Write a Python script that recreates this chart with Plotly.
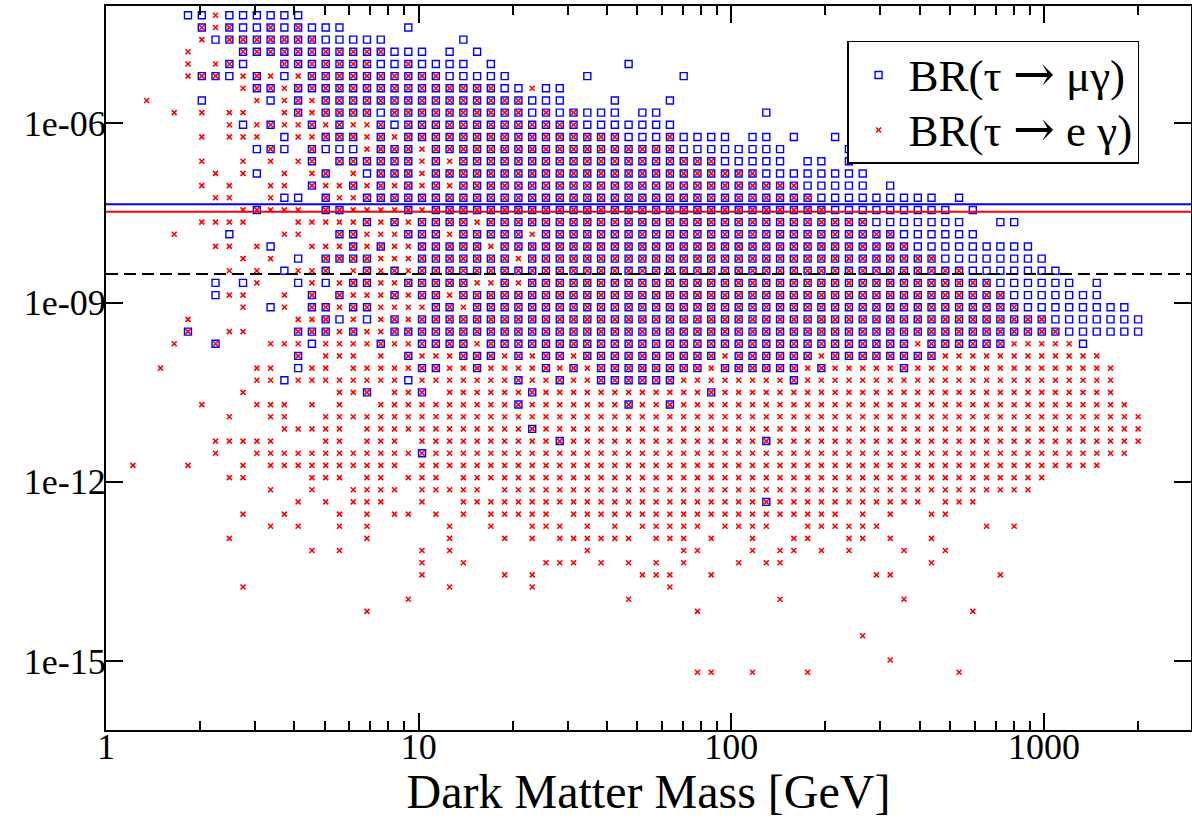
import plotly.graph_objects as go

# Dark-matter mass grid (GeV), one value per column of the scan
MASS_GEV = [1.219, 1.349, 1.494, 1.653, 1.829, 2.025, 2.240, 2.480, 2.744, 3.037,
            3.361, 3.720, 4.117, 4.557, 5.043, 5.581, 6.176, 6.836, 7.565, 8.373,
            9.267, 10.25, 11.35, 12.56, 13.90, 15.38, 17.02, 18.84, 20.85, 23.08,
            25.54, 28.27, 31.29, 34.63, 38.32, 42.41, 46.94, 51.95, 57.49, 63.63,
            70.42, 77.93, 86.25, 95.46, 105.6, 116.9, 129.4, 143.2, 158.5, 175.4,
            194.1, 214.8, 237.8, 263.2, 291.2, 322.3, 356.7, 394.8, 436.9, 483.6,
            535.2, 592.2, 655.5, 725.4, 803.0, 888.6, 983.4, 1088, 1204, 1333,
            1475, 1633, 1807, 2000]

# Branching-ratio levels, one value per row of the scan
BR_ROWS = [6.406e-5, 4.009e-5, 2.509e-5, 1.570e-5, 9.824e-6, 6.148e-6, 3.847e-6, 2.407e-6, 1.506e-6, 9.428e-7,
           5.900e-7, 3.692e-7, 2.310e-7, 1.445e-7, 9.046e-8, 5.661e-8, 3.542e-8, 2.217e-8, 1.387e-8, 8.679e-9,
           5.433e-9, 3.400e-9, 2.127e-9, 1.331e-9, 8.329e-10, 5.214e-10, 3.262e-10, 2.041e-10, 1.277e-10, 7.991e-11,
           5.001e-11, 3.130e-11, 1.959e-11, 1.226e-11, 7.670e-12, 4.800e-12, 3.003e-12, 1.880e-12, 1.176e-12, 7.360e-13,
           4.606e-13, 2.882e-13, 1.804e-13, 1.129e-13, 7.063e-14, 4.420e-14, 2.766e-14, 1.731e-14, 1.083e-14, 6.778e-15,
           4.242e-15, 2.654e-15, 1.661e-15, 1.039e-15, 6.503e-16]

# Occupied cells per BR row: "<col>[-<col>]<kind>", kind s = mu-gamma only, x = e-gamma only, b = both
GRID_ROWS = [
    "4s 5s 6x 7-12s",
    "5b 6x 7b 8s 9s 10b 11s 12b 13-15s 20s",
    "5x 6s 7-13b 14-18s 24s",
    "4x 8-18b 19-21s 23s 25s",
    "4x 6x 7b 8s 11-17b 18s 19s 20b 21-24s 26s 36s",
    "4x 5b 6b 7s 8x 9b 10x 11s 12x 13-22b 23-27s 33s 40s",
    "8x 9b 10b 11x 12-26b 27s 28s 29x 30s 31s",
    "1x 5s 9x 10s 11x 12b 13x 14-28b 29-31s 35s 39s",
    "3x 5x 7x 8x 11x 12b 13x 14-17b 18s 19-28b 29s 30b 31s 32b 33-35s 37s 38s 46s",
    "7x 8s 9x 10b 11x 12x 13b 14x 15b 16x 17x 18b 19s 20-32b 33-39s",
    "5x 7-9x 11s 12x 13x 14-16b 17x 18b 19x 20-35b 36-38s 39b 40-43s 45s 46s 48s 51s",
    "9s 10b 11s 13b 14-16s 17x 18-20b 21x 22-39b 40-47s 52s",
    "5x 8x 10x 12x 13b 15-20b 21x 22b 23x 24-42b 43-47s 49s 50s 52s",
    "6x 8x 9s 11x 13x 14b 16x 17s 18-20b 21x 22-45b 46-53s",
    "5x 7x 10x 11x 13b 14x 15x 16b 17x 18b 19x 20b 21x 22b 23x 24-48b 49-53s 55s",
    "6x 7x 10x 11s 12s 14b 15x 16x 17-49b 50-58s 60s",
    "8x 9b 10-12x 14b 15b 16-19x 20b 21x 22-50b 51-59s 61s",
    "5-8x 12-16x 17b 18x 19b 20x 21-24b 25x 26-53b 54-60s 63s 64s",
    "3x 7s 11x 12x 15b 16b 17-19x 20-22b 23x 24-28b 29x 30-55b 56-61s",
    "6x 7x 9x 10s 13-15x 16b 17x 18b 19x 20x 21-25b 26x 27-56b 57-65s",
    "8x 10x 12s 14-17b 18-20x 21-27b 28x 29-58b 59-66s",
    "7x 9x 11s 12x 13x 14b 16x 17b 18x 19b 20x 21-60b 61-67s",
    "6s 8s 9x 12s 13x 14s 15x 16b 17b 18x 19x 20-24b 25x 26x 27b 28x 29-62b 63-68s 70s",
    "6s 7x 8x 11x 13b 15b 16-18x 19b 20x 21b 22b 23x 24-63b 64-70s",
    "8x 10s 11x 13b 14b 15x 16b 17b 18-21x 22b 23b 24x 25-64b 65-72s",
    "4x 12x 13x 14b 15s 16x 17s 18x 19b 20x 21-66b 67-73s",
    "4b 7x 8x 12-14b 15x 16b 17x 18x 19-67b 68-73s",
    "3x 6b 10-12x 13s 14-17x 18b 19x 20x 21-24b 25x 26-56b 57x 58-63b 64-68x 69s",
    "12b 14-16x 18x 20b 21-23x 24-26b 27x 28b 29x 30b 31b 32x 33-42b 43x 44-49b 50x 51-58b 59-70x",
    "2x 9x 10x 12s 13x 14x 16-20x 21b 22b 23x 24x 25b 26-29x 30b 31x 32b 33x 34-41b 42x 43-48b 49x 50b 51-55x 56b 57-71x",
    "9x 10x 11s 12-19x 20s 21-27x 28b 29x 30x 31b 32x 33x 34-39b 40-47x 48b 49-71x",
    "8x 15x 16x 17b 19x 20x 21b 23-28x 29b 30-41x 42b 43-71x",
    "5x 9-11x 13x 15x 18-27x 28b 29-35x 36b 37x 38x 39b 40-72x",
    "7x 10x 11x 14-73x",
    "11-15x 17-28x 29b 30-73x",
    "6-10x 14x 15x 17-19x 21-30x 31b 32-45x 46b 47-73x",
    "6x 9-20x 21b 22-72x",
    "0x 4x 8x 10-19x 21-70x",
    "7x 8x 13-15x 17x 18x 20-22x 24-66x",
    "10x 13x 16-19x 21-25x 27-65x",
    "12x 14x 16-18x 21x 24-45x 46b 47-57x 59-61x",
    "8x 11x 15x 17x 19x 20x 22x 24x 26-30x 32-51x 53x 55x 58x 59x",
    "10x 12x 15x 17x 23x 26x 29-31x 33x 35x 37-41x 43-46x 49-54x 62x 64x",
    "7x 17x 23x 27x 29x 31-36x 38-40x 42x 45x 48x 49x 52x 53x 55x 58x",
    "13x 15x 21x 23x 33x 40x 41x 45x 47x 48x 50x 52x 56x 59x",
    "21x 24x 30-32x 34x 36x 38x 40x 44x 46x 47x 58x",
    "21x 27x 29x 37-39x 42x 54x 55x 63x",
    "8x 23x 29x 39x",
    "20x 36x 47x 56x",
    "17x 41x 61x",
    "",
    "53x",
    "",
    "55x",
    "41x 42x 45x 49x 60x",
]

# Experimental limits / sensitivity
LIMIT_MU_GAMMA = 4.4e-8
LIMIT_E_GAMMA = 3.3e-8
FUTURE_SENSITIVITY = 3e-9

X_TICKVALS = [1, 10, 100, 1000]
X_TICKTEXT = ["1", "10", "100", "1000"]
X_MINOR = [2, 3, 4, 5, 6, 7, 8, 9, 20, 30, 40, 50, 60, 70, 80, 90,
           200, 300, 400, 500, 600, 700, 800, 900, 2000]
Y_TICKVALS = [1e-15, 1e-12, 1e-9, 1e-6]
Y_TICKTEXT = ["1e-15", "1e-12", "1e-09", "1e-06"]

ARROW = "<span style=\"font-family:'DejaVu Serif';font-size:50px\">\u2192</span>"
LABEL_MU = "<span style=\"font-size:45px\">BR(\u03c4 " + ARROW + " \u03bc\u03b3)</span>"
LABEL_E = "<span style=\"font-size:45px\">BR(\u03c4 " + ARROW + " e \u03b3)</span>"
X_TITLE = "Dark Matter Mass [GeV]"

# expand the grid table into point lists
mu_x, mu_y, e_x, e_y = [], [], [], []
for r, row in enumerate(GRID_ROWS):
    for tok in row.split():
        kind = tok[-1]
        span = tok[:-1]
        if "-" in span:
            a, b = span.split("-")
            cols = range(int(a), int(b) + 1)
        else:
            cols = [int(span)]
        for c in cols:
            if kind in "sb":
                mu_x.append(MASS_GEV[c]); mu_y.append(BR_ROWS[r])
            if kind in "xb":
                e_x.append(MASS_GEV[c]); e_y.append(BR_ROWS[r])

FONT = "Liberation Serif"

fig = go.Figure()
fig.add_trace(go.Scatter(
    x=mu_x, y=mu_y, mode="markers", name=LABEL_MU,
    marker=dict(symbol="square-open", size=7, color="#0000ff",
                line=dict(color="#0000ff", width=1.4)),
))
fig.add_trace(go.Scatter(
    x=e_x, y=e_y, mode="markers", name=LABEL_E,
    marker=dict(symbol="x-thin", size=5, color="#ff0000",
                line=dict(color="#ff0000", width=1.6)),
))

fig.add_shape(type="line", xref="paper", x0=0, x1=1, yref="y",
              y0=LIMIT_MU_GAMMA, y1=LIMIT_MU_GAMMA,
              line=dict(color="#0000ff", width=2))
fig.add_shape(type="line", xref="paper", x0=0, x1=1, yref="y",
              y0=LIMIT_E_GAMMA, y1=LIMIT_E_GAMMA,
              line=dict(color="#ff0000", width=2))
fig.add_shape(type="line", xref="paper", x0=0, x1=1, yref="y",
              y0=FUTURE_SENSITIVITY, y1=FUTURE_SENSITIVITY,
              line=dict(color="black", width=2, dash="12px,6px"))

axis_common = dict(
    showline=True, linecolor="black", linewidth=2, mirror="ticks",
    ticks="inside", ticklen=17, tickwidth=1.5, tickcolor="black",
    showgrid=False, zeroline=False, automargin=False,
    tickfont=dict(family=FONT, size=36, color="black"),
)

fig.update_xaxes(
    type="log", range=[0, 3.4703],
    tickmode="array", tickvals=X_TICKVALS, ticktext=X_TICKTEXT,
    ticklabelstandoff=-16,
    minor=dict(ticks="inside", ticklen=9, tickwidth=1.5, tickcolor="black",
               tickmode="array", tickvals=X_MINOR, showgrid=False),
    title=dict(text=X_TITLE, font=dict(family=FONT, size=48, color="black"), standoff=25),
    **axis_common,
)
fig.update_yaxes(
    type="log", range=[-16.154, -4.038],
    tickmode="array", tickvals=Y_TICKVALS, ticktext=Y_TICKTEXT,
    ticklabelstandoff=-9,
    **axis_common,
)

fig.update_layout(
    width=1192, height=818,
    margin=dict(l=106, r=1, t=6, b=88),
    paper_bgcolor="white", plot_bgcolor="white",
    font=dict(family=FONT, color="black"),
    showlegend=True,
    legend=dict(
        x=0.683, y=0.9517, xanchor="left", yanchor="top",
        bgcolor="white", bordercolor="black", borderwidth=1.5,
        font=dict(family=FONT, size=40, color="black"),
        itemwidth=50,
    ),
)

fig.write_html("out.html")
